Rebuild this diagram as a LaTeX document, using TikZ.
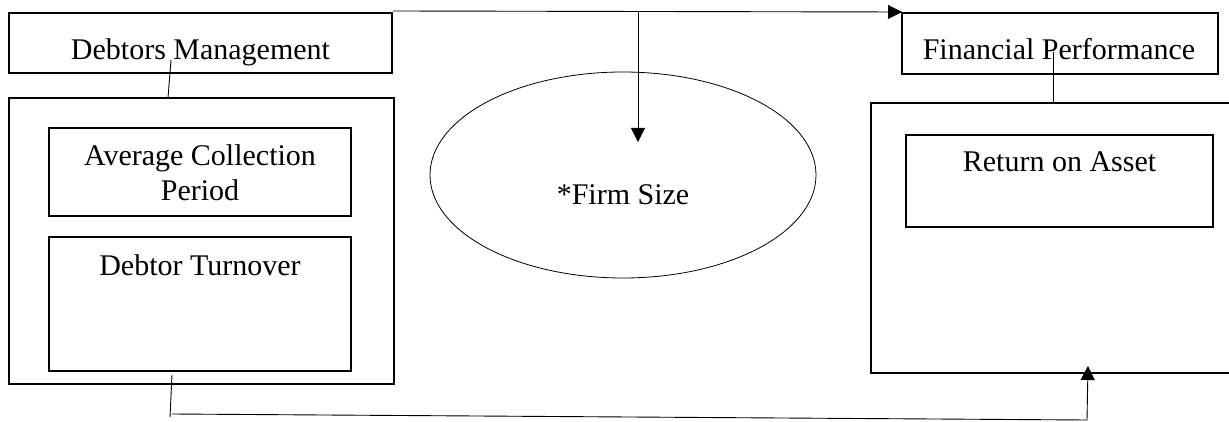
\documentclass[tikz,border=0pt]{standalone}
\usepackage{fontspec}
\setmainfont{Liberation Serif}
\usetikzlibrary{arrows.meta,shapes.geometric}
\begin{document}
\begin{tikzpicture}[x=1pt,y=-1pt,
  boxst/.style={draw,line width=1.4pt,rectangle,inner sep=0pt},
  txt/.style={inner sep=0pt,anchor=base,font=\fontsize{30}{35}\selectfont},
  conn/.style={line width=0.9pt},
  arr/.style={line width=0.9pt,-{Triangle[length=14pt,width=14pt]}}]
\clip (0,0) rectangle (1229,422);
\fill[white] (0,0) rectangle (1229,422);
% boxes
\node[boxst,minimum width=383pt,minimum height=60pt] (dm) at (200.5,43) {};
\node[boxst,minimum width=385pt,minimum height=286pt] (outl) at (201.5,241) {};
\node[boxst,minimum width=302pt,minimum height=88pt] (acp) at (200,172) {};
\node[boxst,minimum width=302pt,minimum height=134pt] (dt) at (200,304) {};
\node[boxst,minimum width=316pt,minimum height=61pt] (fp) at (1060,43.5) {};
\node[boxst,minimum width=380pt,minimum height=270pt] (outr) at (1061,238) {};
\node[boxst,minimum width=307pt,minimum height=92pt] (roa) at (1059.5,181) {};
\node[draw,ellipse,line width=0.8pt,inner sep=0pt,minimum width=386pt,minimum height=206pt] (fs) at (623,175) {};
% texts
\node[txt] (tdm) at (200.5,60) {Debtors Management};
\node[txt] (tfp) at (1059,60) {Financial Performance};
\node[txt] (tacp1) at (200,166) {Average Collection};
\node[txt] (tacp2) at (200,201) {Period};
\node[txt] (tdt) at (200,276) {Debtor Turnover};
\node[txt] (troa) at (1059.5,172) {Return on Asset};
\node[txt] (tfs) at (623,205) {*Firm Size};
% connector points
\coordinate (dmc) at (171,60);
\coordinate (outlc) at (168,98);
\coordinate (fpc) at (1053,52);
\coordinate (outrc) at (1053,103);
\coordinate (t1) at (393,11);
\coordinate (t2) at (902,12);
\coordinate (tm) at (638,11);
\coordinate (fstop) at (638,142);
\coordinate (b1) at (172,375);
\coordinate (b2) at (170,417);
\coordinate (b3) at (172,414);
\coordinate (b4) at (1087,420);
\coordinate (b5) at (1088,366);
% connectors
\draw[conn] (dmc) -- (outlc);
\draw[conn] (fpc) -- (outrc);
\draw[arr] (t1) -- (t2);
\draw[arr] (tm) -- (fstop);
\draw[conn] (b1) -- (b2);
\draw[conn] (b3) -- (b4);
\draw[arr] (b4) -- (b5);
\end{tikzpicture}
\end{document}
